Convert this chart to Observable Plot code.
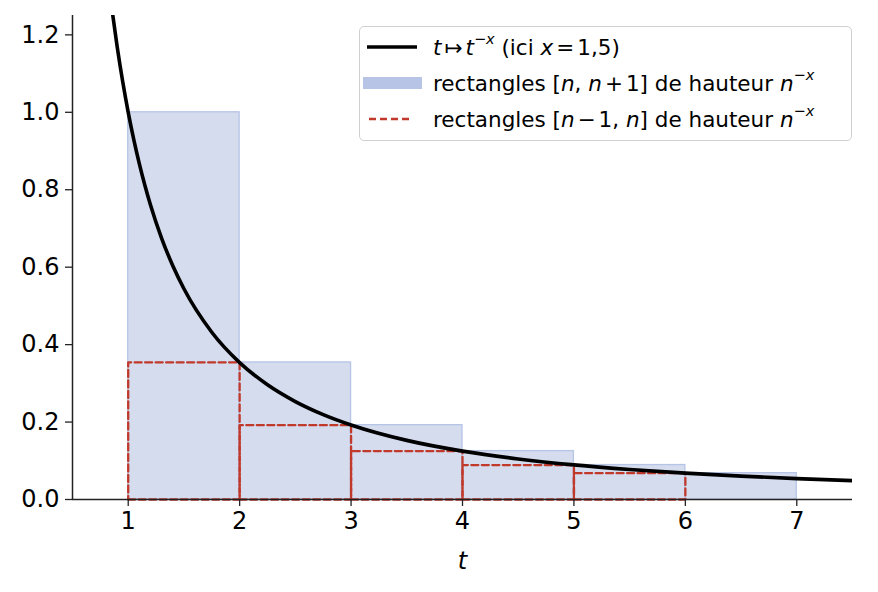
<!DOCTYPE html>
<html>
<head>
<meta charset="utf-8">
<script src="https://cdn.jsdelivr.net/npm/d3@7"></script>
<script src="https://cdn.jsdelivr.net/npm/@observablehq/plot@0.6"></script>
<style>
  html, body { margin: 0; padding: 0; background: #fff; }
  #wrap { position: relative; width: 878px; height: 592px; font-family: "DejaVu Sans", sans-serif; }
  #wrap svg [aria-label="x-axis label"] text { font-style: italic; }
  #legend {
    position: absolute; left: 359px; top: 26px; width: 493px; height: 115px;
    border: 1.5px solid #d0d0d0; border-radius: 5px; background: rgba(255,255,255,0.85);
    font-size: 21.5px; color: #000; box-sizing: border-box;
  }
  .row { position: absolute; left: 0; height: 30px; display: flex; align-items: center; white-space: nowrap; }
  .row svg { position: absolute; left: 2px; }
  .row span.txt { position: absolute; left: 73px; }
  .row sup { font-size: 14.5px; position: relative; top: -3px; }
  .op { margin: 0 3px; }
</style>
</head>
<body>
<div id="wrap">
  <div id="legend">
    <div class="row" style="top:5px"><svg width="60" height="14" style="top:8px"><line x1="5" y1="7" x2="55" y2="7" stroke="#000" stroke-width="3.6"/></svg><span class="txt"><i>t</i><span class="op">↦</span><i>t</i><sup>−<i>x</i></sup> (ici <i>x</i><span class="op">=</span>1,5)</span></div>
    <div class="row" style="top:41px"><svg width="60" height="14" style="top:8px"><rect x="1" y="1" width="59" height="12" fill="#b8c4e6"/></svg><span class="txt">rectangles [<i>n</i>, <i>n</i><span class="op">+</span>1] de hauteur <i>n</i><sup>−<i>x</i></sup></span></div>
    <div class="row" style="top:77px"><svg width="60" height="14" style="top:8px"><line x1="7" y1="7" x2="51" y2="7" stroke="#c0392b" stroke-width="2.3" stroke-dasharray="7,4"/></svg><span class="txt">rectangles [<i>n</i><span class="op">−</span>1, <i>n</i>] de hauteur <i>n</i><sup>−<i>x</i></sup></span></div>
  </div>
</div>
<script>
// Rectangles: integer n and heights n^-x (x = 1.5)
const ns = [1, 2, 3, 4, 5, 6];
const heights = [1.0, 0.354, 0.192, 0.125, 0.089, 0.068];
// Red dashed rectangles [n-1, n] with height n^-x, n = 2..6
const redN = [2, 3, 4, 5, 6];
const redHeights = [0.354, 0.192, 0.125, 0.089, 0.068];
// Curve t -> t^-1.5 sampled points
const curveT = [0.8, 0.86, 0.9, 0.95, 1.0, 1.05, 1.1, 1.15, 1.2, 1.3, 1.4, 1.5, 1.75, 2.0, 2.25, 2.5, 2.75, 3.0, 3.5, 4.0, 4.5, 5.0, 5.5, 6.0, 6.5, 7.0, 7.5];
const curveY = [1.3975, 1.2539, 1.1712, 1.0800, 1.0, 0.9294, 0.8668, 0.8109, 0.7607, 0.6747, 0.6037, 0.5443, 0.4320, 0.3536, 0.2963, 0.2530, 0.2193, 0.1925, 0.1527, 0.125, 0.1048, 0.0894, 0.0775, 0.0680, 0.0603, 0.0540, 0.0487];
const xTicks = [1, 2, 3, 4, 5, 6, 7];
const yTicks = [0, 0.2, 0.4, 0.6, 0.8, 1.0, 1.2];

const bars = ns.map((n, i) => ({x1: n, x2: n + 1, h: heights[i]}));
const redPts = [];
redN.forEach((n, i) => {
  const h = redHeights[i];
  [[n - 1, 0], [n, 0], [n, h], [n - 1, h], [n - 1, 0]].forEach(([x, y]) => redPts.push({n, x, y}));
});
const curve = curveT.map((t, i) => ({t, y: curveY[i]}));

const chart = Plot.plot({
  width: 878, height: 592,
  marginLeft: 72, marginRight: 26, marginTop: 15, marginBottom: 93,
  style: {fontFamily: "DejaVu Sans, sans-serif", color: "#000", background: "transparent"},
  x: {domain: [0.5, 7.5]},
  y: {domain: [0, 1.25]},
  marks: [
    Plot.rectY(bars, {x1: "x1", x2: "x2", y: "h", fill: "#d5dcee", stroke: "#b6c4e6", strokeWidth: 1.3, inset: 0}),
    Plot.line(redPts, {x: "x", y: "y", z: "n", stroke: "#c0392b", strokeWidth: 2.3, strokeDasharray: "7,3.5", curve: "linear"}),
    Plot.line(curve, {x: "t", y: "y", stroke: "#000", strokeWidth: 3.6, curve: "monotone-x", clip: true}),
    Plot.axisX({ticks: xTicks, tickFormat: d => String(d), tickSize: 7, tickPadding: 5, fontSize: 24, stroke: "#222", strokeWidth: 1.3,
      label: "t", labelAnchor: "center", labelArrow: "none", labelOffset: 69}),
    Plot.axisY({ticks: yTicks, tickFormat: d3.format(".1f"), tickSize: 7, tickPadding: 6, fontSize: 24, stroke: "#222", strokeWidth: 1.3, label: null}),
    Plot.ruleY([0], {stroke: "#222", strokeWidth: 1.5}),
    Plot.ruleX([0.5], {stroke: "#222", strokeWidth: 1.5})
  ]
});
document.getElementById("wrap").prepend(chart);
chart.style.position = "absolute";
chart.style.left = "0";
chart.style.top = "0";
</script>
</body>
</html>
